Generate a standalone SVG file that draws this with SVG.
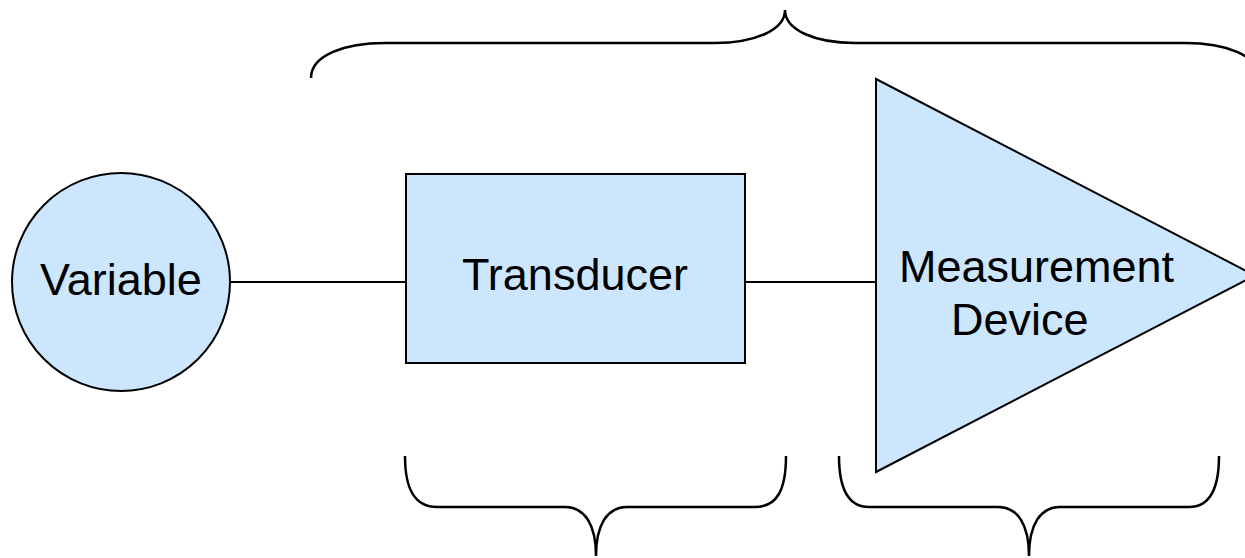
<svg xmlns="http://www.w3.org/2000/svg" width="1245" height="558" viewBox="0 0 1245 558">
  <style>
    .shape { fill: #cce6fe; stroke: #000; stroke-width: 2; }
    .wire { stroke: #000; stroke-width: 2; fill: none; }
    .brace { stroke: #000; stroke-width: 2.5; fill: none; }
    .label { font-family: "Liberation Sans", Arial, sans-serif; font-size: 45px; fill: #000; }
  </style>
  <rect width="1245" height="558" fill="#fff"/>

  <g id="connectors">
    <line class="wire" x1="230" y1="282" x2="406" y2="282"/>
    <line class="wire" x1="745" y1="282" x2="876" y2="282"/>
  </g>

  <g id="variable">
    <circle class="shape" cx="121" cy="282" r="109"/>
    <text class="label" x="121" y="295" text-anchor="middle">Variable</text>
  </g>

  <g id="transducer">
    <rect class="shape" x="406" y="174" width="339" height="189"/>
    <text class="label" x="575" y="290" text-anchor="middle">Transducer</text>
  </g>

  <g id="measurement-device">
    <polygon class="shape" points="876,79 1255,275.5 876,472"/>
    <text class="label" x="899" y="282">Measurement</text>
    <text class="label" x="951" y="335">Device</text>
  </g>

  <g id="braces">
    <!-- spans transducer and measurement device -->
    <path class="brace" d="M311,78 C311,55 345,43 385,43 L715,43 C755,43 785,30 785,10 C785,30 815,43 855,43 L1185,43 C1225,43 1259,55 1259,78"/>
    <!-- under transducer -->
    <path class="brace" d="M405,456 C405,490 415,507 437,507 L565,507 C585,507 596,525 596,556 C596,525 607,507 627,507 L755,507 C777,507 786,490 786,456"/>
    <!-- under measurement device -->
    <path class="brace" d="M839,456 C839,490 849,507 869,507 L998,507 C1018,507 1029,525 1029,556 C1029,525 1040,507 1060,507 L1189,507 C1209,507 1219,490 1219,456"/>
  </g>
</svg>
